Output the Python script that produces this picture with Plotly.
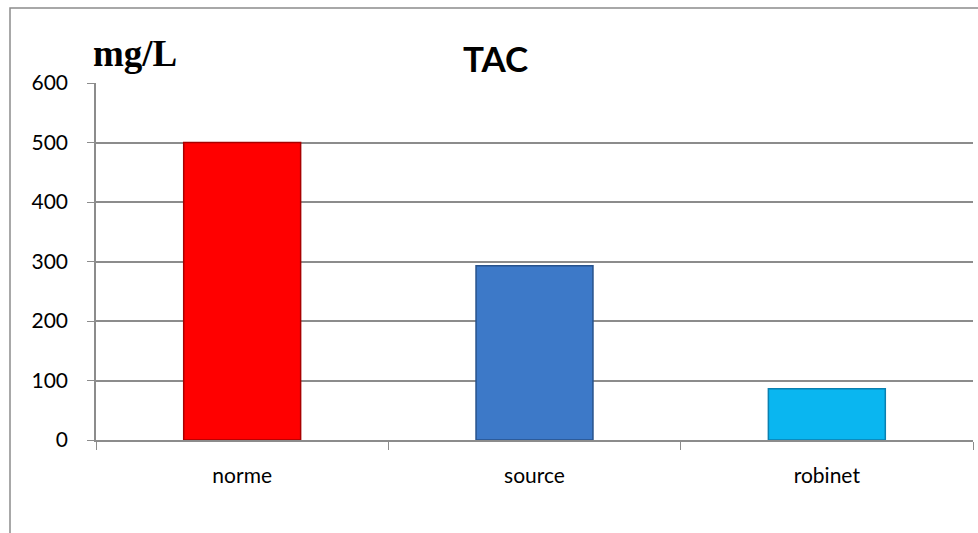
import plotly.graph_objects as go

# TAC values (mg/L) per sample
categories = ["norme", "source", "robinet"]
values = [500, 293, 86]
bar_colors = ["#FF0000", "#3D79C8", "#0AB6F0"]
edge_colors = ["#A80000", "#27528C", "#0A80B0"]
y_ticks = [0, 100, 200, 300, 400, 500, 600]

W, H = 978, 533
L, R, T, B = 96, 5, 83, 93
pw, ph = W - L - R, H - T - B

fig = go.Figure()
fig.add_trace(go.Bar(
    x=categories, y=values, width=0.4,
    marker=dict(color=bar_colors, line=dict(color=edge_colors, width=1.5)),
    hoverinfo="x+y",
))

grid = "#8C8C8C"
fig.update_layout(
    width=W, height=H,
    margin=dict(l=L, r=R, t=T, b=B),
    paper_bgcolor="white", plot_bgcolor="white",
    showlegend=False,
    font=dict(family="Lato, Open Sans, sans-serif", size=21, color="#000000"),
    xaxis=dict(
        showgrid=False, showline=True, linecolor=grid, linewidth=1.5,
        ticks="outside", tickson="boundaries", ticklen=8, tickcolor=grid,
        tickfont=dict(size=21), ticklabelstandoff=16, range=[-0.5, 2.5],
    ),
    yaxis=dict(
        range=[0, 600], tickvals=y_ticks, showgrid=True, gridcolor=grid,
        gridwidth=1.5, showline=True, linecolor=grid, linewidth=1.5,
        ticks="outside", ticklen=7, tickcolor=grid, zeroline=False,
        tickfont=dict(size=21), ticklabelstandoff=15,
    ),
    shapes=[dict(
        type="rect", xref="paper", yref="paper",
        x0=(10 - L) / pw, x1=1.2, y0=-0.4, y1=(H - B - 8) / ph,
        line=dict(color="#8C8C8C", width=1.5), fillcolor="rgba(0,0,0,0)",
        layer="below",
    )],
    annotations=[
        dict(text="<b>TAC</b>", xref="paper", yref="paper",
             x=(495 - L) / pw, y=(H - B - 58) / ph, xanchor="center", yanchor="middle",
             showarrow=False, font=dict(family="Lato, sans-serif", size=35)),
        dict(text="<b>mg/L</b>", xref="paper", yref="paper",
             x=(91 - L) / pw, y=(H - B - 53) / ph, xanchor="left", yanchor="middle",
             showarrow=False, font=dict(family="Liberation Serif, serif", size=37)),
    ],
)

fig.write_html("out.html")
